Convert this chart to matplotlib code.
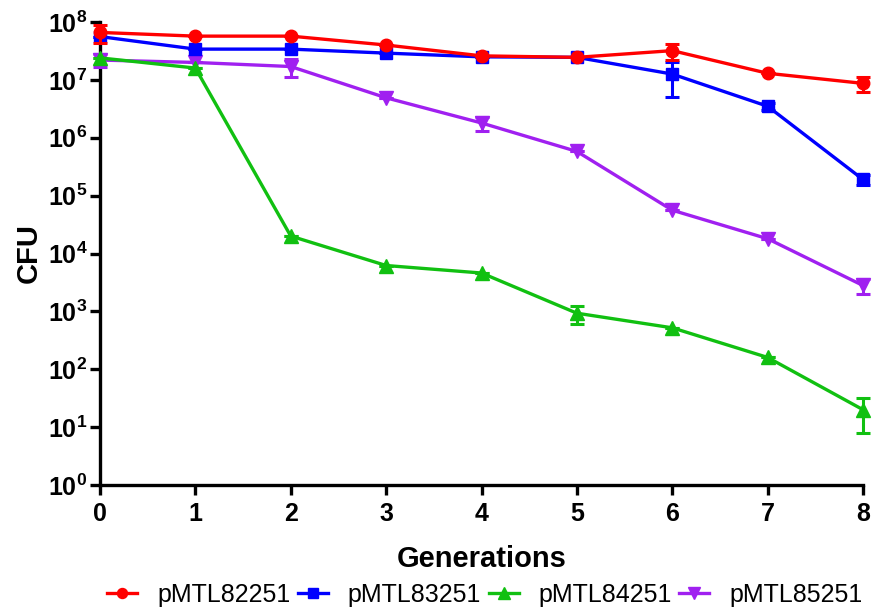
import numpy as np
import matplotlib
matplotlib.use('Agg')
import matplotlib.pyplot as plt
from matplotlib.lines import Line2D

plt.rcParams['font.family'] = ['Liberation Sans', 'DejaVu Sans']
plt.rcParams['mathtext.fontset'] = 'custom'
plt.rcParams['mathtext.rm'] = 'Liberation Sans:bold'
plt.rcParams['mathtext.default'] = 'rm'

# 代数
generations = [0, 1, 2, 3, 4, 5, 6, 7, 8]

# 各质粒的CFU均值与标准差
p82251 = [6.6e7, 5.7e7, 5.7e7, 4.0e7, 2.6e7, 2.45e7, 3.2e7, 1.3e7, 8.7e6]
p82251_sd = [2.2e7, 0, 0, 0, 0, 0, 1.0e7, 0, 2.6e6]

p83251 = [5.6e7, 3.4e7, 3.4e7, 2.9e7, 2.5e7, 2.45e7, 1.26e7, 3.5e6, 1.9e5]
p83251_sd = [0, 0, 0, 0, 0, 0, 7.5e6, 5e5, 4e4]

p84251 = [2.4e7, 1.6e7, 2.0e4, 6.2e3, 4.6e3, 9.3e2, 5.2e2, 1.6e2, 20]
p84251_sd = [0, 0, 0, 0, 0, 320, 0, 0, 12]

p85251 = [2.2e7, 2.0e7, 1.7e7, 4.9e6, 1.8e6, 5.8e5, 5.6e4, 1.8e4, 2.8e3]
p85251_sd = [5.5e6, 0, 6e6, 0, 5e5, 0, 0, 0, 800]

series = [
    ('pMTL82251', p82251, p82251_sd, '#FF0000', 'o', 9),
    ('pMTL83251', p83251, p83251_sd, '#0000FF', 's', 8.5),
    ('pMTL84251', p84251, p84251_sd, '#11C011', '^', 10),
    ('pMTL85251', p85251, p85251_sd, '#A020F0', 'v', 10),
]

fig = plt.figure(figsize=(8.72, 6.16), dpi=100)
ax = fig.add_axes([100 / 872, 131 / 616, 763 / 872, 463 / 616])

# 倒序绘制，使第一组在最上层
for i, (name, vals, sd, color, marker, ms) in enumerate(series[::-1]):
    ax.errorbar(generations, vals, yerr=sd, color=color, marker=marker,
                markersize=ms, linewidth=2.4, elinewidth=2.2, capsize=5,
                capthick=2.2, zorder=3 + i, clip_on=False)

ax.set_yscale('log')
ax.set_ylim(1, 1e8)
ax.set_xlim(0, 8)
ax.set_xticks(generations)
ax.set_yticks([10.0 ** k for k in range(9)])
ax.set_yticklabels([r'$10^{%d}$' % k for k in range(9)])
ax.yaxis.set_minor_locator(matplotlib.ticker.NullLocator())

for side in ['top', 'right']:
    ax.spines[side].set_visible(False)
for side in ['left', 'bottom']:
    ax.spines[side].set_linewidth(2.4)

ax.tick_params(axis='both', length=7, width=2.4, labelsize=18)
ax.tick_params(axis='y', pad=2)
ax.tick_params(axis='x', pad=5)
for lab in ax.get_xticklabels():
    lab.set_fontweight('bold')

ax.set_xlabel('Generations', fontsize=21, fontweight='bold', labelpad=14)
ax.set_ylabel('CFU', fontsize=21, fontweight='bold', labelpad=4)

# 图例：只显示线和标记
handles = [Line2D([], [], color=c, marker=m, markersize=ms * 0.8, linewidth=2.4)
           for _, _, _, c, m, ms in series]
labels = [s[0] for s in series]
fig.legend(handles, labels, loc='lower center', bbox_to_anchor=(0.556, -0.022),
           ncol=4, frameon=False, fontsize=18, columnspacing=0.3,
           handlelength=1.2, handletextpad=0.8)

fig.savefig('out.png', dpi=100)
